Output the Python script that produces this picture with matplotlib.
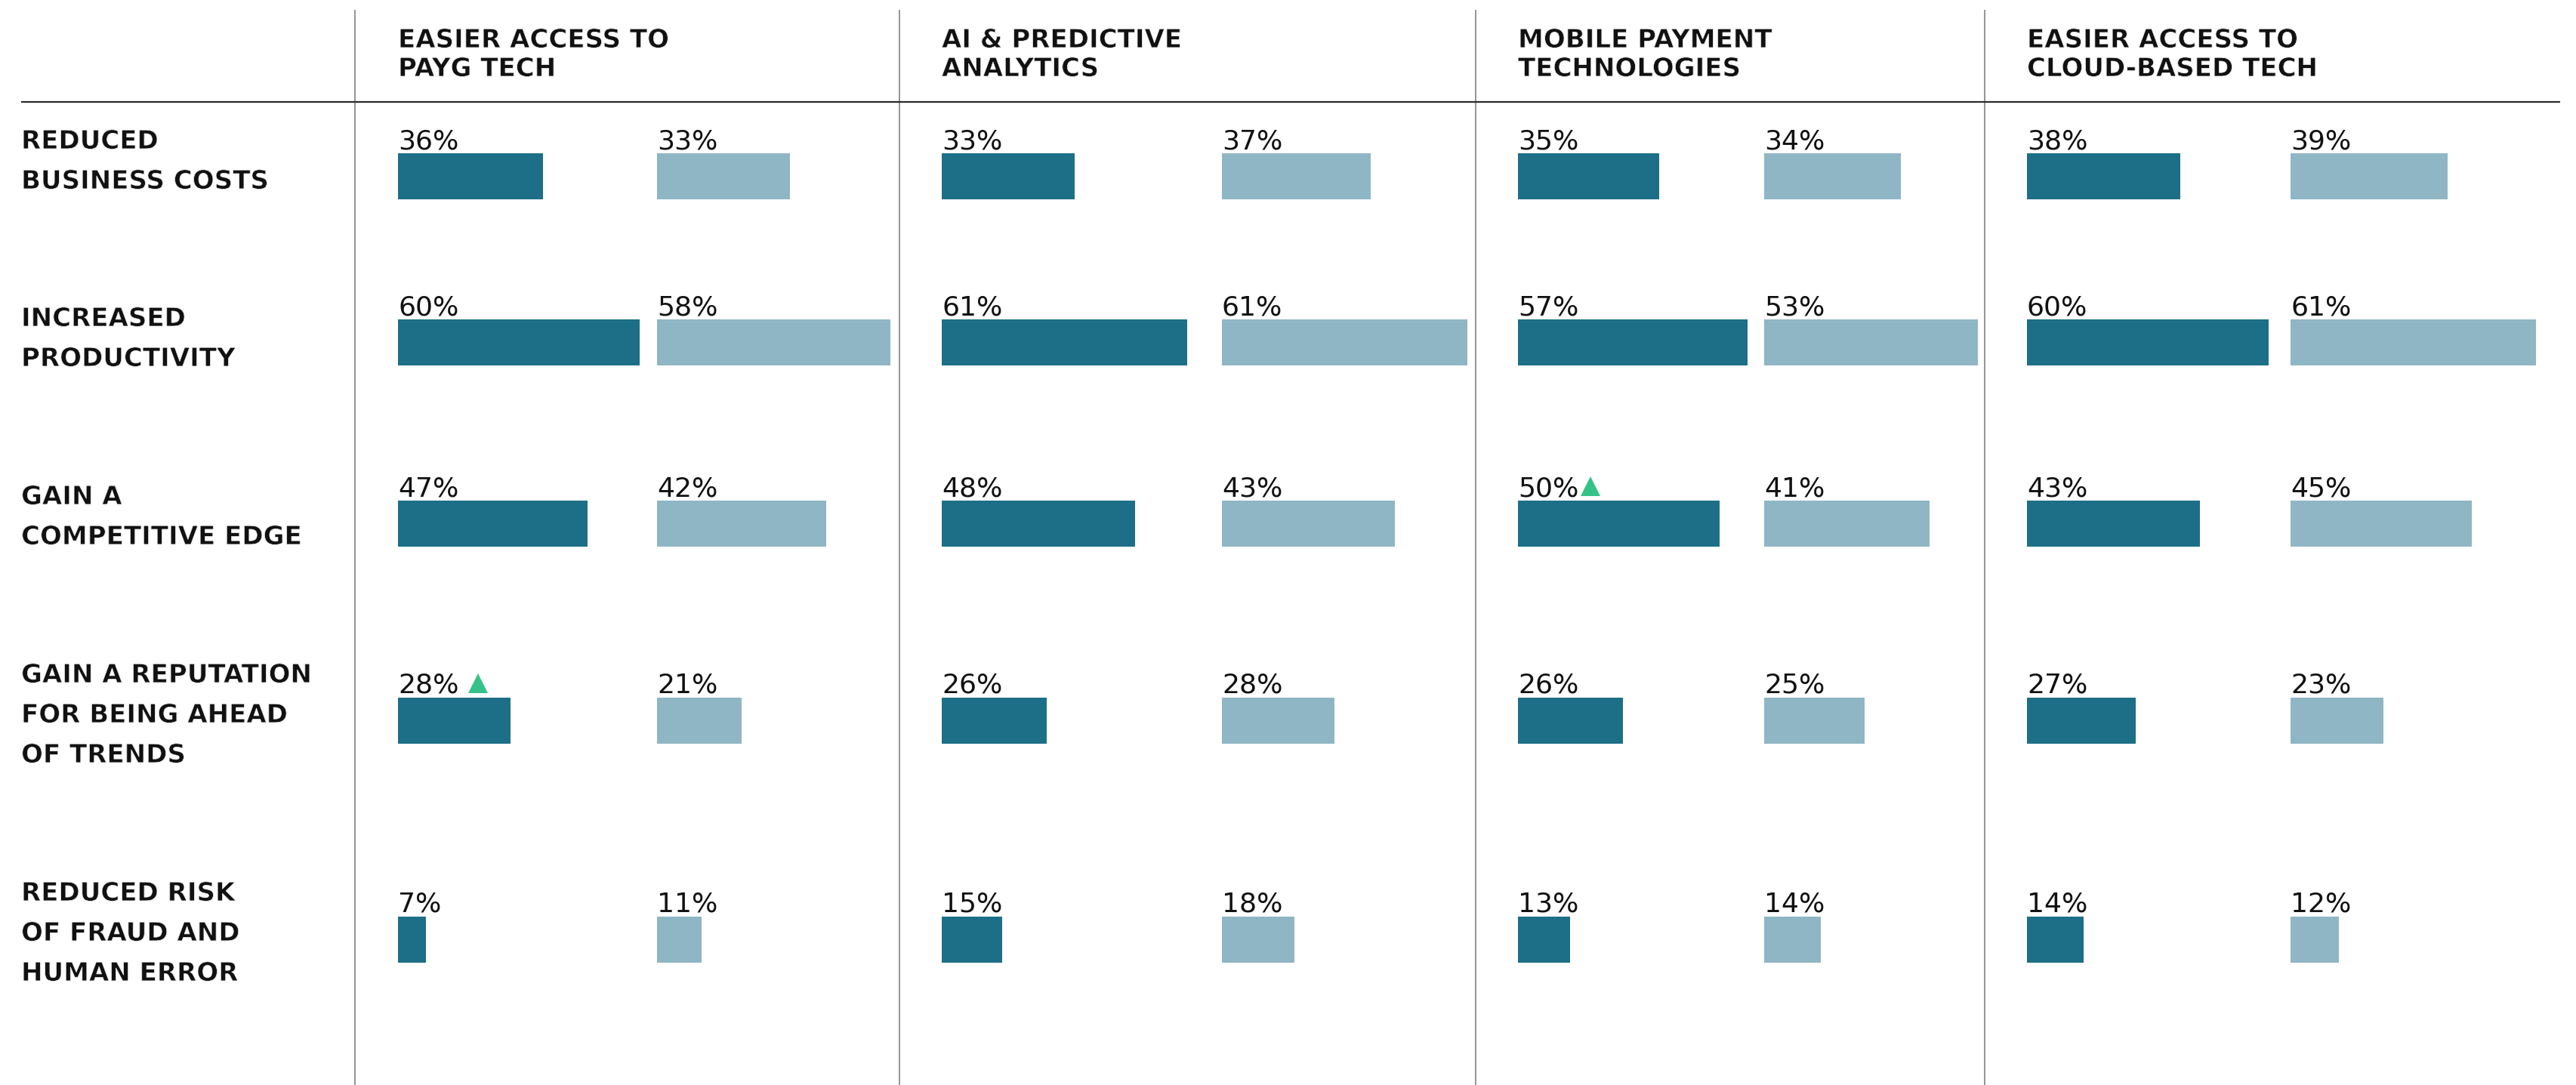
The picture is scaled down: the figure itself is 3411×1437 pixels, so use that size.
import matplotlib
matplotlib.use("Agg")
import matplotlib.pyplot as plt
import matplotlib.patheffects as pe

# ---- data -------------------------------------------------------------
techs = [
    "EASIER ACCESS TO\nPAYG TECH",
    "AI & PREDICTIVE\nANALYTICS",
    "MOBILE PAYMENT\nTECHNOLOGIES",
    "EASIER ACCESS TO\nCLOUD-BASED TECH",
]
outcomes = [
    "REDUCED\nBUSINESS COSTS",
    "INCREASED\nPRODUCTIVITY",
    "GAIN A\nCOMPETITIVE EDGE",
    "GAIN A REPUTATION\nFOR BEING AHEAD\nOF TRENDS",
    "REDUCED RISK\nOF FRAUD AND\nHUMAN ERROR",
]
# one list per technology, values follow the order of `outcomes`
primary = [
    [36, 60, 47, 28, 7],
    [33, 61, 48, 26, 15],
    [35, 57, 50, 26, 13],
    [38, 60, 43, 27, 14],
]
secondary = [
    [33, 58, 42, 21, 11],
    [37, 61, 43, 28, 18],
    [34, 53, 41, 25, 14],
    [39, 61, 45, 23, 12],
]
# (technology, outcome) cells of the primary series flagged with an up marker
rising = [(0, 3), (2, 2)]

# ---- style / layout (pixels) -------------------------------------------
W, H, DPI = 3411, 1437, 100
DARK, LIGHT, UP, INK = "#1d6f87", "#8fb6c4", "#35c288", "#111111"
col_x = [(527, 870), (1247, 1618), (2010, 2336), (2684, 3033)]
dividers = [469.5, 1191, 1954, 2628]
bar_top = [203, 423, 663, 924, 1214]
bar_h = 61
label_base = [197, 432, 668, 904, 1193]
label_gap = 53
head_base, head_gap = 63, 38
px_per_pct = 5.335
span_pct = 66
marker_gap = [12, 3]
marker_px = 26

# medium-weight look: bold glyphs slightly thinned by a white outline
medium = [pe.Normal(), pe.Stroke(linewidth=0.55, foreground="white")]
label_font = dict(family="DejaVu Sans", fontsize=24.5, fontweight="bold",
                  color=INK, path_effects=medium)
value_font = dict(family="DejaVu Sans", fontsize=26, color=INK)

fig = plt.figure(figsize=(W / DPI, H / DPI), dpi=DPI)
fig.patch.set_facecolor("white")

# full-figure frame in pixel units for rules and text
frame = fig.add_axes([0, 0, 1, 1])
frame.set_xlim(0, W)
frame.set_ylim(H, 0)
frame.axis("off")

for x in dividers:
    frame.plot([x, x], [13, H], color="#777777", lw=1.1, solid_capstyle="butt")
frame.plot([28, 3390], [134.5, 134.5], color="#2b2b2b", lw=1.6,
           solid_capstyle="butt")

for j, t in enumerate(techs):
    for k, line in enumerate(t.split("\n")):
        frame.text(col_x[j][0], head_base + k * head_gap, line,
                   ha="left", va="baseline", **label_font)

for i, lab in enumerate(outcomes):
    for k, line in enumerate(lab.split("\n")):
        frame.text(28, label_base[i] + k * label_gap, line,
                   ha="left", va="baseline", **label_font)

# ---- bars: one axes per technology and series ---------------------------
centers = [t + bar_h / 2 for t in bar_top]
value_labels = {}
for j in range(len(techs)):
    for s, (series, color) in enumerate(((primary[j], DARK),
                                         (secondary[j], LIGHT))):
        x0 = col_x[j][s]
        ax = fig.add_axes([x0 / W, 0, span_pct * px_per_pct / W, 1])
        ax.set_xlim(0, span_pct)
        ax.set_ylim(H, 0)
        ax.axis("off")
        ax.patch.set_alpha(0)
        ax.barh(centers, series, height=bar_h, left=0, color=color,
                linewidth=0)
        for i, v in enumerate(series):
            txt = ax.text(0, bar_top[i] - 6, f"{v}%", ha="left",
                          va="baseline", **value_font)
            if s == 0:
                value_labels[(j, i)] = txt

# ---- up markers next to flagged values ----------------------------------
fig.canvas.draw()
renderer = fig.canvas.get_renderer()
for (j, i), gap in zip(rising, marker_gap):
    bb = value_labels[(j, i)].get_window_extent(renderer)
    cx = bb.x1 + gap + marker_px / 2
    base = bar_top[i] - 6
    frame.plot([cx], [base - marker_px / 2], marker="^",
               ms=marker_px * 72 / DPI, color=UP, mew=0, zorder=5)

fig.savefig("out.png", dpi=DPI, facecolor="white")
